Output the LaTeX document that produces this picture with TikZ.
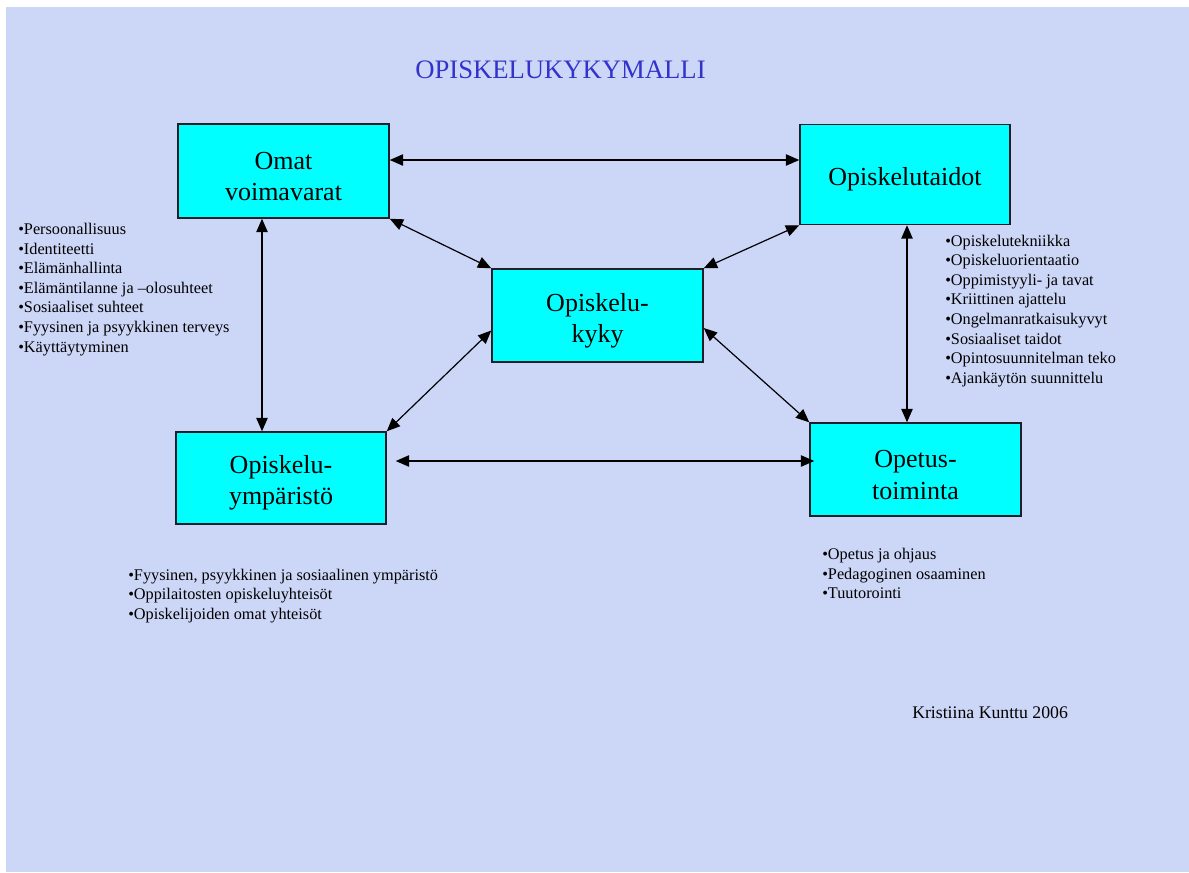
\documentclass[tikz,border=0pt]{standalone}
\usepackage{fontspec}
\setmainfont{Liberation Serif}
\usetikzlibrary{arrows.meta}
\newdimen\pxu \pxu=0.75pt
\newcommand{\topstrut}{\rule{0pt}{21pt}}
\definecolor{bg}{RGB}{204,214,246}
\definecolor{boxcyan}{RGB}{0,255,255}
\definecolor{titleblue}{RGB}{51,51,204}
\definecolor{boxline}{RGB}{30,30,40}
\begin{document}
\begin{tikzpicture}[x=0.75pt,y=-0.75pt,
  box/.style={draw=boxline, line width=1.1pt, fill=boxcyan, align=center,
    font=\fontsize{19.5}{23.5}\selectfont, inner sep=0pt},
  link/.style={{Triangle[length=10pt,width=8.5pt]}-{Triangle[length=10pt,width=8.5pt]}, line width=0.9pt},
  list/.style={anchor=north west, align=left, font=\fontsize{12.2}{14.7}\selectfont, inner sep=0pt},
  titletext/.style={text=titleblue, font=\fontsize{20}{24}\selectfont, inner sep=0pt},
  authortext/.style={anchor=west, font=\fontsize{13.3}{16}\selectfont, inner sep=0pt}]
\useasboundingbox (0,0) rectangle (1189,872);
\fill[white] (0,0) rectangle (1189,872);
\fill[bg] (6,7) rectangle (1189,872);

\node[titletext] (title) at (560.5,70) {OPISKELUKYKYMALLI};

\node[box, minimum width=211\pxu, minimum height=94\pxu] (omat) at (283.5,171) {\topstrut Omat\\voimavarat};
\node[box, minimum width=210\pxu, minimum height=100\pxu] (taidot) at (905,174.5) {\topstrut Opiskelutaidot};
\node[box, minimum width=211\pxu, minimum height=93\pxu] (kyky) at (597.5,315.5) {\topstrut Opiskelu-\\kyky};
\node[box, minimum width=210\pxu, minimum height=92\pxu] (ymp) at (281,478) {\topstrut Opiskelu-\\ympäristö};
\node[box, minimum width=211\pxu, minimum height=93\pxu] (opetus) at (915.5,469.5) {\topstrut Opetus-\\toiminta};

\draw[link] ([yshift=11\pxu]omat.east) -- ([yshift=14.5\pxu]taidot.west);
\draw[link] (omat.south east) -- (kyky.north west);
\draw[link] (taidot.south west) -- (kyky.north east);
\draw[link] ([xshift=-21.5\pxu]omat.south) -- ([xshift=-19\pxu]ymp.north);
\draw[link] (ymp.north east) -- ([yshift=-15\pxu]kyky.west);
\draw[link] ([yshift=-12.5\pxu]kyky.east) -- (opetus.north west);
\draw[link] ([xshift=9\pxu,yshift=17\pxu]ymp.east) -- ([xshift=5\pxu,yshift=8.5\pxu]opetus.west);
\draw[link] ([xshift=2\pxu]taidot.south) -- ([xshift=-8.5\pxu]opetus.north);

\node[list] (list1) at (18,223) {•Persoonallisuus\\•Identiteetti\\•Elämänhallinta\\•Elämäntilanne ja –olosuhteet\\•Sosiaaliset suhteet\\•Fyysinen ja psyykkinen terveys\\•Käyttäytyminen};
\node[list] (list2) at (945,234.5) {•Opiskelutekniikka\\•Opiskeluorientaatio\\•Oppimistyyli- ja tavat\\•Kriittinen ajattelu\\•Ongelmanratkaisukyvyt\\•Sosiaaliset taidot\\•Opintosuunnitelman teko\\•Ajankäytön suunnittelu};
\node[list] (list3) at (128,568.5) {•Fyysinen, psyykkinen ja sosiaalinen ympäristö\\•Oppilaitosten opiskeluyhteisöt\\•Opiskelijoiden omat yhteisöt};
\node[list] (list4) at (822,548) {•Opetus ja ohjaus\\•Pedagoginen osaaminen\\•Tuutorointi};

\node[authortext] (author) at (912,713) {Kristiina Kunttu 2006};
\end{tikzpicture}
\end{document}
